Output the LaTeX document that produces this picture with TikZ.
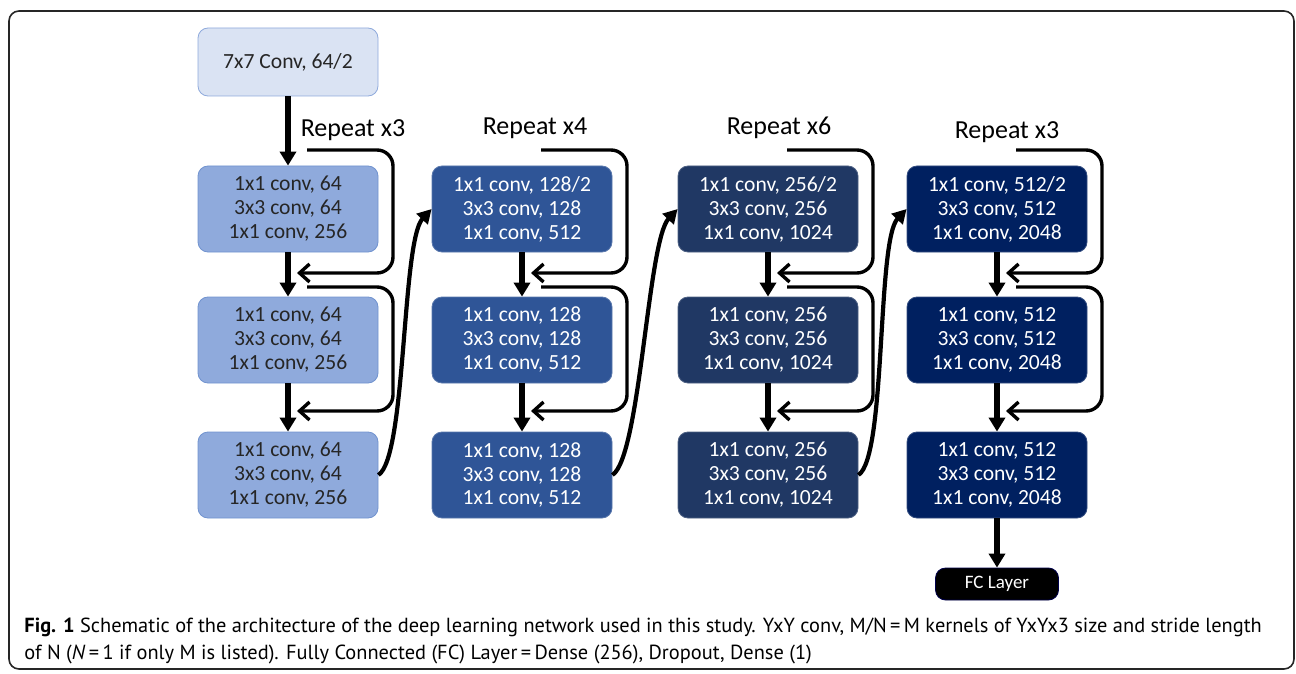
\documentclass[tikz,border=0pt]{standalone}
\usepackage{fontspec}
\setmainfont{Carlito}
\newfontfamily\capfont{PT Sans}
\usetikzlibrary{positioning,arrows.meta}
\definecolor{stemfill}{HTML}{DAE3F3}
\definecolor{stemline}{HTML}{8FAADC}
\definecolor{stageone}{HTML}{8FAADC}
\definecolor{stageoneline}{HTML}{7193CF}
\definecolor{stagetwo}{HTML}{2F5597}
\definecolor{stagethree}{HTML}{203864}
\definecolor{stagefour}{HTML}{002060}

\begin{document}
\begin{tikzpicture}[x=0.5pt,y=-0.5pt,
  blk/.style={rounded corners=5pt,minimum width=90pt,minimum height=43pt,inner sep=0pt,
    align=center,font=\fontsize{10.8}{12}\selectfont},
  stem/.style={blk,minimum height=34pt,fill=stemfill,draw=stemline,text=black!85},
  sone/.style={blk,fill=stageone,draw=stageoneline,text=black!85},
  stwo/.style={blk,fill=stagetwo,draw=stagetwo!80!white,text=white},
  sthree/.style={blk,fill=stagethree,draw=stagethree!80!white,text=white},
  sfour/.style={blk,fill=stagefour,draw=stagefour!80!white,text=white},
  rep/.style={font=\fontsize{13}{15}\selectfont},
  flow/.style={line width=2.6pt,-{Triangle[width=8pt,length=7pt]}},
  jump/.style={line width=2.1pt,-{Triangle[width=7.5pt,length=7pt]}},
  skip/.style={line width=1.7pt,rounded corners=8pt,-{Straight Barb[width=9pt,length=5pt]}}]

  \useasboundingbox (0,0) rectangle (1296,674);
  \draw[line width=0.8pt,black!85,rounded corners=5pt] (9,11) rectangle (1294,669);

  % stem
  \node[stem] (stem) at (288,62) {7x7 Conv, 64/2};

  % stage 1
  \node[sone] (a1) at (288,209) {1x1 conv, 64\\3x3 conv, 64\\1x1 conv, 256};
  \node[sone] (a2) at (288,340) {1x1 conv, 64\\3x3 conv, 64\\1x1 conv, 256};
  \node[sone] (a3) at (288,475) {1x1 conv, 64\\3x3 conv, 64\\1x1 conv, 256};

  % stage 2
  \node[stwo] (b1) at (522,209) {1x1 conv, 128/2\\3x3 conv, 128\\1x1 conv, 512};
  \node[stwo] (b2) at (522,340) {1x1 conv, 128\\3x3 conv, 128\\1x1 conv, 512};
  \node[stwo] (b3) at (522,475) {1x1 conv, 128\\3x3 conv, 128\\1x1 conv, 512};

  % stage 3
  \node[sthree] (c1) at (768,209) {1x1 conv, 256/2\\3x3 conv, 256\\1x1 conv, 1024};
  \node[sthree] (c2) at (768,340) {1x1 conv, 256\\3x3 conv, 256\\1x1 conv, 1024};
  \node[sthree] (c3) at (768,475) {1x1 conv, 256\\3x3 conv, 256\\1x1 conv, 1024};

  % stage 4
  \node[sfour] (d1) at (997,209) {1x1 conv, 512/2\\3x3 conv, 512\\1x1 conv, 2048};
  \node[sfour] (d2) at (997,340) {1x1 conv, 512\\3x3 conv, 512\\1x1 conv, 2048};
  \node[sfour] (d3) at (997,475) {1x1 conv, 512\\3x3 conv, 512\\1x1 conv, 2048};

  \node[blk,minimum width=61.5pt,minimum height=16pt,fill=black,draw=black!70!blue,
        text=white,font=\fontsize{9.5}{11}\selectfont] (fc) at (997,584) {FC Layer};

  % repeat labels
  \node[rep] (ra) at (353,130) {Repeat x3};
  \node[rep] (rb) at (535,128) {Repeat x4};
  \node[rep] (rc) at (779,128) {Repeat x6};
  \node[rep] (rd) at (1007,132) {Repeat x3};

  % main flow
  \draw[flow] (stem) -- (a1);
  \draw[flow] (a1) -- (a2);
  \draw[flow] (a2) -- (a3);
  \draw[flow] (b1) -- (b2);
  \draw[flow] (b2) -- (b3);
  \draw[flow] (c1) -- (c2);
  \draw[flow] (c2) -- (c3);
  \draw[flow] (d1) -- (d2);
  \draw[flow] (d2) -- (d3);
  \draw[flow] (d3) -- (fc);

  % stage to stage
  \draw[jump] (a3.east) .. controls +(28,-18) and +(-30,32) .. (b1.west);
  \draw[jump] (b3.east) .. controls +(28,-18) and +(-30,32) .. (c1.west);
  \draw[jump] (c3.east) .. controls +(28,-18) and +(-30,32) .. (d1.west);

  % skip connections
  \coordinate (as1) at (307,150);  \coordinate (at1) at (297,273);
  \coordinate (as2) at (307,287);  \coordinate (at2) at (297,411);
  \coordinate (bs1) at (541,150);  \coordinate (bt1) at (531,273);
  \coordinate (bs2) at (541,287);  \coordinate (bt2) at (531,411);
  \coordinate (cs1) at (787,150);  \coordinate (ct1) at (777,273);
  \coordinate (cs2) at (787,287);  \coordinate (ct2) at (777,411);
  \coordinate (ds1) at (1016,150); \coordinate (dt1) at (1006,273);
  \coordinate (ds2) at (1016,287); \coordinate (dt2) at (1006,411);
  \draw[skip] (as1) -| ++(86,123) -- (at1);
  \draw[skip] (as2) -| ++(86,124) -- (at2);
  \draw[skip] (bs1) -| ++(86,123) -- (bt1);
  \draw[skip] (bs2) -| ++(86,124) -- (bt2);
  \draw[skip] (cs1) -| ++(86,123) -- (ct1);
  \draw[skip] (cs2) -| ++(86,124) -- (ct2);
  \draw[skip] (ds1) -| ++(86,123) -- (dt1);
  \draw[skip] (ds2) -| ++(86,124) -- (dt2);

  % caption
  \node[anchor=north west,align=left,inner sep=0pt,
        font=\capfont\fontsize{10.2}{13.5}\selectfont] (cap) at (24,618)
    {\textbf{Fig. 1} Schematic of the architecture of the deep learning network used in this study. YxY conv, M/N\,=\,M kernels of YxYx3 size and stride length\\
     of N (\textit{N}\,=\,1 if only M is listed). Fully Connected (FC) Layer\,=\,Dense (256), Dropout, Dense (1)};
\end{tikzpicture}
\end{document}
